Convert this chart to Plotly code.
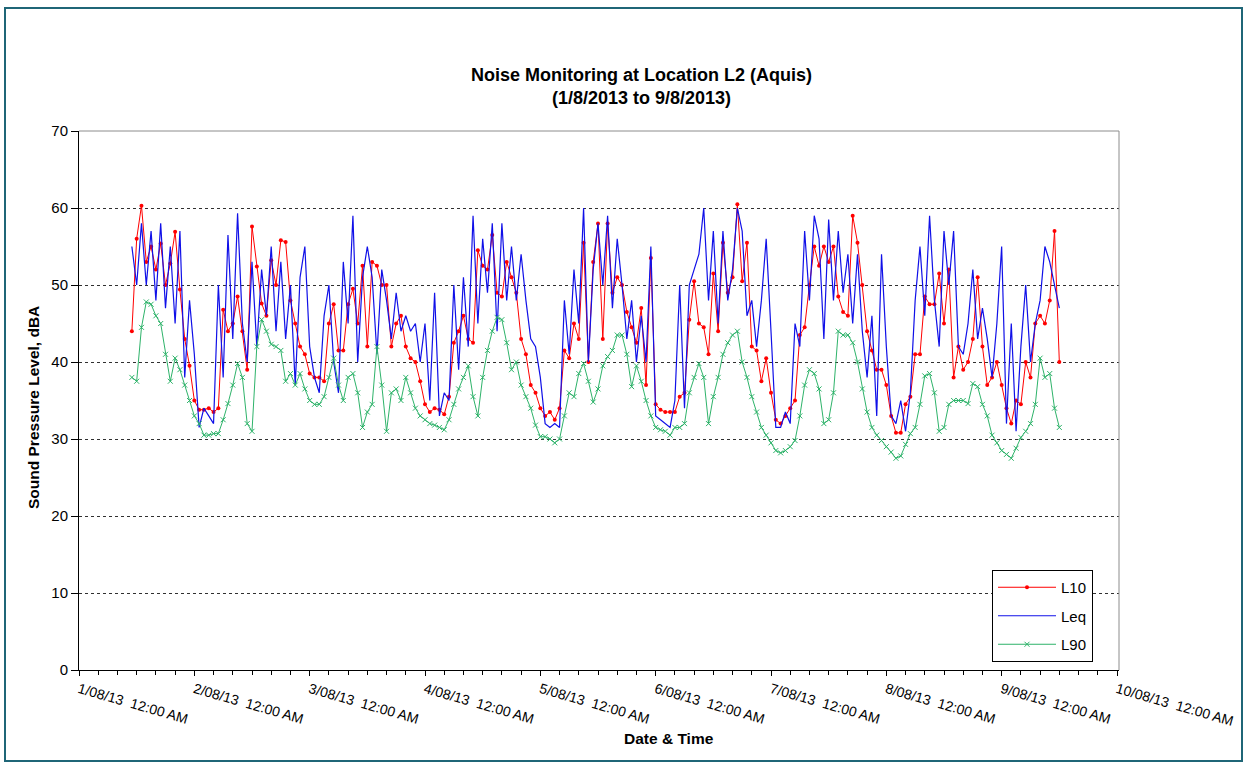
import pandas as pd
import plotly.graph_objects as go

# ---------------- data (hourly readings, 1/08/2013 11:00 -> 9/08/2013 12:00) ----------------
START = "2013-08-01 11:00"

L10 = [
    44, 56, 60.3, 53, 55, 52, 55.4, 50, 52.8, 56.9, 49.4, 43, 39.5,
    35, 33.8, 33.8, 34, 33.5, 34, 46.8, 44, 45, 48.5, 44, 39, 57.6, 52.4, 47.6, 46, 53.2, 50, 55.8, 55.6, 48, 45, 42, 41,
    38.5, 38, 38, 37.5, 45, 47.5, 41.5, 41.5, 47.5, 49.5, 45, 52.5, 42, 53, 52.5, 50, 50, 42, 45, 46, 42, 40.5, 40, 37.5,
    34.5, 33.5, 34, 33.8, 33.2, 35.5, 42.5, 44, 46, 43, 42.5, 54.5, 52.5, 52, 56.5, 49, 48.5, 53, 51, 49, 43, 41, 37, 36,
    34, 33, 33.5, 32.5, 34, 41.5, 40.5, 45, 43, 55.5, 40, 53, 58, 43, 58, 49, 51, 50, 46.5, 44.5, 42.5, 47, 37, 53.5,
    34.5, 33.8, 33.5, 33.5, 33.5, 35.5, 36, 45.5, 50.5, 45, 44.5, 41, 51.5, 44, 55.5, 49, 51, 60.5, 50.5, 55.5, 42, 41.5, 37.5, 40.5,
    36, 32.5, 32, 33, 34, 35, 43.5, 44.5, 50, 55, 52.5, 55, 53, 55, 48.5, 46.5, 46, 59, 55.5, 50, 44, 41.5, 39, 39,
    37, 33, 30.8, 30.8, 34.5, 35.5, 41, 41, 48.5, 47.5, 47.5, 51.5, 45, 52, 38, 42, 39, 40, 43, 51, 42, 37, 38, 40,
    37, 34, 32, 35, 34.5, 40, 38, 45, 46, 45, 48, 57, 40,
]

LEQ = [
    55, 50, 58, 50, 57, 48, 58, 47, 55, 45, 57, 38, 48,
    41, 31.5, 34, 33, 32, 50, 38, 56.5, 43, 59.3, 45, 40, 53, 42, 52, 46, 55, 44, 53, 43, 50, 37, 51, 55,
    42, 38, 36, 46, 50, 40, 36, 53, 45, 59, 40, 51, 55, 51, 41, 52, 48, 43, 49, 44, 46, 44, 45, 40,
    45, 35, 49, 33, 36, 35, 50, 39, 51, 42, 59, 45, 56, 49, 58, 44, 58, 48, 55, 48, 54, 48, 43, 42,
    38, 32, 31.5, 32, 31.5, 48, 41, 52, 45, 60, 40, 52, 58, 50, 59, 47, 56, 50, 43, 48, 40, 46, 40, 55,
    33, 32.5, 32, 31.5, 35, 50, 34, 50, 52, 54, 60, 48, 57, 45, 57, 48, 52, 60, 57, 46, 48, 42, 48, 56,
    44, 31.5, 31.5, 33.5, 32, 45, 42, 57, 48, 59, 56, 43, 58.5, 48, 57, 49, 54, 45, 54, 44, 38, 46, 33, 54,
    42, 33, 32, 35, 31, 36, 48, 55, 46, 59, 48, 42, 57, 50, 57, 42, 41, 45, 52, 43, 47, 43, 38, 45,
    55, 32, 45, 31, 42, 50, 40, 45, 48, 55, 53, 50, 47,
]

L90 = [
    38, 37.5, 44.5, 47.8, 47.5, 46, 45, 41, 37.5, 40.5, 39, 37, 35,
    33, 32, 30.5, 30.5, 30.7, 30.7, 32.5, 34.6, 37, 39.8, 38, 32, 31, 42, 45.5, 44, 42.3, 42, 41.5, 37.5, 38.5, 37, 38.5, 36.5,
    35, 34.5, 34.5, 35.5, 38, 40.5, 37, 35, 38, 38.5, 36, 31.5, 33.5, 34.5, 42, 37, 31, 36, 36.5, 35, 38, 36, 34, 33,
    32.5, 32, 31.8, 31.5, 31.2, 32.5, 34.5, 36.5, 38, 39.5, 35.5, 33, 38, 41.5, 44, 45.8, 45.5, 42.5, 39, 40, 37, 35.5, 34, 31.8,
    30.3, 30.3, 30, 29.5, 30, 33, 36, 35.5, 38.5, 39.8, 37.5, 34.8, 36.5, 39.5, 40.7, 41.5, 43.5, 43.5, 41, 36.8, 39.5, 37.5, 35, 33,
    31.5, 31.2, 31, 30.5, 31.5, 31.5, 32, 36, 38, 39.8, 38, 32, 35.5, 38, 41, 42.5, 43.5, 44, 40, 38, 35.5, 33.5, 31.5, 30.5,
    29.5, 28.5, 28.2, 28.5, 29, 29.8, 33, 37, 39, 38.5, 36.5, 32, 32.5, 36, 44, 43.5, 43.5, 42.5, 40, 36.5, 33.5, 31.5, 30.5, 29.8,
    29, 28.3, 27.5, 27.8, 29.3, 30.7, 31.5, 34.5, 38.2, 38.5, 36, 31, 31.5, 34.5, 35, 35, 35, 34.6, 37.2, 36.8, 34.5, 33, 30.5, 29.5,
    28.5, 28, 27.5, 28.8, 30.2, 31, 32, 34.5, 40.5, 38, 38.5, 34, 31.5,
]

DAY_TICKS = pd.date_range("2013-08-01", "2013-08-10", freq="D")
DAY_LABELS = [f"{d.day}/08/13  12:00 AM" for d in DAY_TICKS]

n = min(len(L10), len(LEQ), len(L90))
times = pd.date_range(START, periods=n, freq="h")

FONT = "Liberation Sans, Arial, sans-serif"
RED = "#FF0000"
BLUE = "#1010E8"
GREEN = "#2EB36A"

fig = go.Figure()
fig.add_trace(go.Scatter(
    x=times, y=L10[:n], name="L10", mode="lines+markers",
    line=dict(color=RED, width=1), marker=dict(symbol="circle", size=4, color=RED),
    legendgroup="a",
))
fig.add_trace(go.Scatter(
    x=times, y=LEQ[:n], name="Leq", mode="lines",
    line=dict(color=BLUE, width=1.2), legendgroup="b",
))
fig.add_trace(go.Scatter(
    x=times, y=L90[:n], name="L90", mode="lines+markers",
    line=dict(color=GREEN, width=1),
    marker=dict(symbol="x-thin", size=5, color=GREEN, line=dict(color=GREEN, width=1)),
    legendgroup="c",
))

# plot area pixel geometry
L, T, W, H = 79, 131, 1040, 539


def px(xp):
    return (xp - L) / W


def py(yp):
    return (T + H - yp) / H


fig.update_layout(
    width=1246, height=765,
    margin=dict(l=L, r=1246 - L - W, t=T, b=765 - T - H),
    paper_bgcolor="white", plot_bgcolor="white",
    font=dict(family=FONT, size=14, color="black"),
    showlegend=True,
    legend=dict(
        x=px(992), y=py(570), xanchor="left", yanchor="top",
        bordercolor="black", borderwidth=1, bgcolor="white",
        font=dict(family=FONT, size=15, color="black"),
        tracegroupgap=6, traceorder="grouped", itemwidth=58,
    ),
    xaxis=dict(
        type="date",
        range=["2013-08-01 00:00", "2013-08-10 00:25"],
        tickmode="array", tickvals=list(DAY_TICKS), ticktext=DAY_LABELS,
        tickangle=16, ticks="outside", ticklen=5, tickcolor="black",
        tickfont=dict(family=FONT, size=14, color="black"),
        showgrid=False, zeroline=False,
        showline=True, linecolor="black", linewidth=1,
        minor=dict(ticks="outside", ticklen=4, tickcolor="black", dtick=4 * 3600 * 1000,
                   tick0="2013-08-01", showgrid=False),
    ),
    yaxis=dict(
        range=[0, 70], tickmode="linear", tick0=0, dtick=10,
        ticks="outside", ticklen=7, tickcolor="black",
        tickfont=dict(family=FONT, size=15, color="black"),
        showgrid=True, gridcolor="#303030", griddash="dot", gridwidth=1,
        zeroline=False, showline=True, linecolor="black", linewidth=1,
    ),
    annotations=[
        dict(text="<b>Noise Monitoring at Location L2 (Aquis)</b><br><b>(1/8/2013 to 9/8/2013)</b>",
             xref="paper", yref="paper", x=px(641), y=py(87), xanchor="center", yanchor="middle",
             showarrow=False, font=dict(family=FONT, size=18, color="black")),
        dict(text="<b>Date &amp; Time</b>", xref="paper", yref="paper", x=px(669), y=py(738),
             xanchor="center", yanchor="middle", showarrow=False,
             font=dict(family=FONT, size=15.5, color="black")),
        dict(text="<b>Sound Pressure Level, dBA</b>", xref="paper", yref="paper", x=px(33), y=py(408),
             xanchor="center", yanchor="middle", textangle=-90, showarrow=False,
             font=dict(family=FONT, size=15.5, color="black")),
    ],
    shapes=[
        # plot area border (top and right)
        dict(type="line", xref="paper", yref="paper", x0=0, x1=1, y0=1, y1=1,
             line=dict(color="#8C8C8C", width=1), layer="above"),
        dict(type="line", xref="paper", yref="paper", x0=1, x1=1, y0=0, y1=1,
             line=dict(color="#8C8C8C", width=1), layer="above"),
        # outer chart border
        dict(type="rect", xref="paper", yref="paper", x0=px(5), x1=px(1242), y0=py(761), y1=py(8),
             line=dict(color="#1F6677", width=2), fillcolor="rgba(0,0,0,0)", layer="above"),
    ],
)

fig.write_html("out.html", config={"displayModeBar": False},
               post_script="document.body.style.margin='0';")
